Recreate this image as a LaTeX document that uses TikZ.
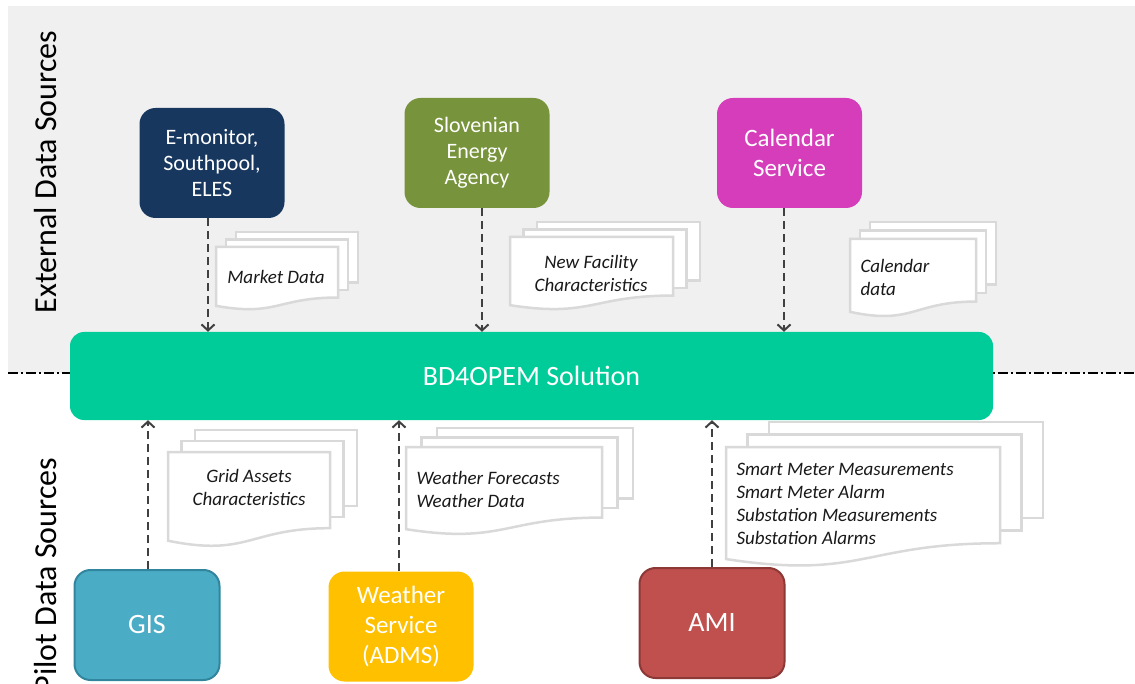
\documentclass[tikz,border=0pt]{standalone}
\usepackage{fontspec}
\setmainfont{Carlito}
\usetikzlibrary{positioning,arrows.meta}

\definecolor{bgGray}{HTML}{F0F0F0}
\definecolor{barGreen}{HTML}{00CC99}
\definecolor{navyBox}{HTML}{17375E}
\definecolor{oliveBox}{HTML}{77933C}
\definecolor{pinkBox}{HTML}{D63DBA}
\definecolor{gisBox}{HTML}{4BACC6}
\definecolor{gisEdge}{HTML}{31859C}
\definecolor{sunBox}{HTML}{FFC000}
\definecolor{amiBox}{HTML}{C0504D}
\definecolor{amiEdge}{HTML}{8C3836}
\definecolor{docGray}{HTML}{D9D9D9}
\definecolor{arrowGray}{HTML}{404040}

% stack of three pages: x, y (top left of front page), w, h, dx, dy
\newcommand{\docstack}[6]{%
  \draw[docline] (#1+2*#5,#2-2*#6) rectangle ++(#3,0.8*#4);
  \draw[docline] (#1+#5,#2-#6) rectangle ++(#3,0.8*#4);
  \draw[docline] (#1,#2) -- (#1+#3,#2) -- (#1+#3,#2+0.802*#4)
    .. controls (#1+0.5*#3,#2+0.802*#4) and (#1+0.5*#3,#2+1.107*#4) .. (#1,#2+0.934*#4) -- cycle;
}

\tikzset{
  srcbox/.style={rectangle, rounded corners=16pt, minimum width=145pt, minimum height=110pt,
    align=center, text=white, font=\fontsize{22}{26}\selectfont},
  docline/.style={draw=docGray, line width=2.5pt, fill=white},
  doctext/.style={font=\itshape\fontsize{19}{23}\selectfont, text=black!90},
  flow/.style={draw=arrowGray, line width=2pt, dash pattern=on 8pt off 5pt,
    -{Straight Barb[length=6pt,width=13pt]}},
  sidelabel/.style={rotate=90, font=\fontsize{32}{36}\selectfont},
}

\begin{document}
\begin{tikzpicture}[x=1pt, y=-1pt]
  \useasboundingbox (0,0) rectangle (1135,684);
  \clip (0,0) rectangle (1135,684);

  % upper area
  \fill[bgGray] (8,6) rectangle (1135,373);
  \draw[line width=1.2pt, dash pattern=on 10pt off 3pt on 2pt off 3pt] (8,373) -- (1135,373);

  \node[sidelabel] (extlbl) at (46,172) {External Data Sources};
  \node[sidelabel] (pilotlbl) at (46,575) {Pilot Data Sources};

  % solution bar
  \node[fill=barGreen, rounded corners=14pt, minimum width=923pt, minimum height=88pt,
    text=white, font=\fontsize{28}{32}\selectfont] (bd) at (531.5,376) {BD4OPEM Solution};

  % external sources
  \node[srcbox, fill=navyBox] (emon) at (212,163) {E-monitor,\\Southpool,\\ELES};
  \node[srcbox, fill=oliveBox] (sea) at (477,153) {Slovenian\\Energy\\Agency};
  \node[srcbox, fill=pinkBox, font=\fontsize{25}{30}\selectfont] (calsrv) at (789.5,153) {Calendar\\Service};

  % pilot sources
  \node[srcbox, fill=gisBox, draw=gisEdge, line width=2pt, font=\fontsize{28}{32}\selectfont] (gis) at (147,625) {GIS};
  \node[srcbox, fill=sunBox, font=\fontsize{25}{30}\selectfont] (wsrv) at (401,626.5) {Weather\\Service\\(ADMS)};
  \node[srcbox, fill=amiBox, draw=amiEdge, line width=2pt, font=\fontsize{28}{32}\selectfont] (ami) at (712,623) {AMI};

  % data documents
  \docstack{216}{247}{122}{63}{10}{7.5}
  \docstack{510}{237}{163}{73}{13.5}{7.5}
  \docstack{850}{239}{126}{78}{10}{8.5}
  \docstack{168}{452}{162}{95}{13.5}{11}
  \docstack{406}{447}{196}{88}{15.5}{9.5}
  \docstack{726}{447}{274}{120}{21.5}{12.5}

  \node[doctext] (mkt) at (276,277) {Market Data};
  \node[doctext, align=center] (facil) at (591,273) {New Facility\\Characteristics};
  \node[doctext, align=left, anchor=west] (caldata) at (857,277) {Calendar\\data};
  \node[doctext, align=center] (grid) at (249,487) {Grid Assets\\Characteristics};
  \node[doctext, align=left, anchor=west] (weather) at (413,489) {Weather Forecasts\\Weather Data};
  \node[doctext, align=left, anchor=west] (smart) at (733,504) {Smart Meter Measurements\\Smart Meter Alarm\\Substation Measurements\\Substation Alarms};

  % flows
  \draw[flow] ([xshift=-4pt]emon.south) -- ([xshift=-4pt]emon.south |- bd.north);
  \draw[flow] ([xshift=5pt]sea.south) -- ([xshift=5pt]sea.south |- bd.north);
  \draw[flow] ([xshift=-5.5pt]calsrv.south) -- ([xshift=-5.5pt]calsrv.south |- bd.north);
  \draw[flow] ([xshift=1pt]gis.north) -- ([xshift=1pt]gis.north |- bd.south);
  \draw[flow] ([xshift=-2pt]wsrv.north) -- ([xshift=-2pt]wsrv.north |- bd.south);
  \draw[flow] (ami.north) -- (ami.north |- bd.south);
\end{tikzpicture}
\end{document}
